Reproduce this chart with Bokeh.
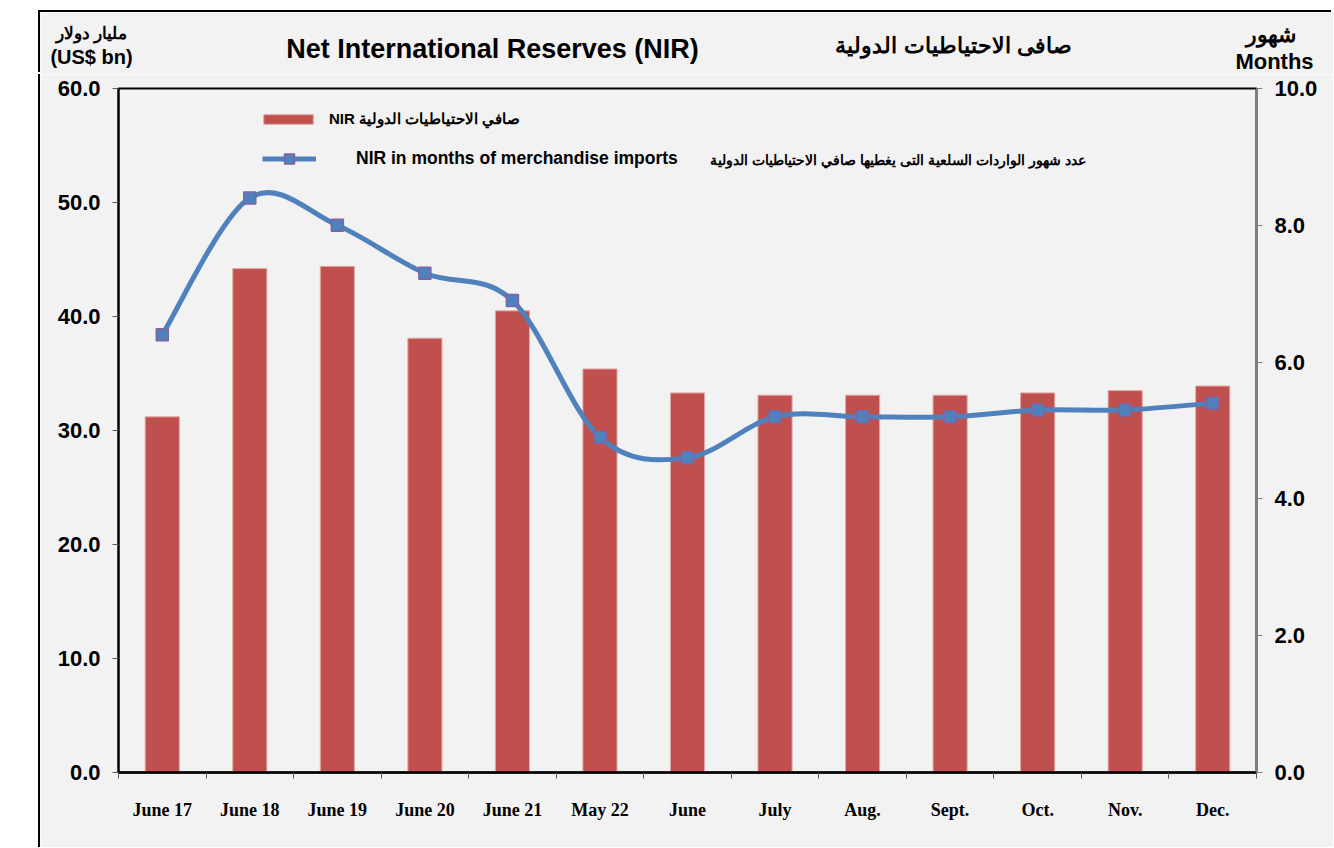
import numpy as np
from bokeh.plotting import figure
from bokeh.models import (Range1d, LinearAxis, FixedTicker, NumeralTickFormatter,
                          Label, Legend, LegendItem, ColumnDataSource)
from bokeh.embed import file_html
from bokeh.resources import INLINE

# ---------------- data ----------------
categories = ["June 17", "June 18", "June 19", "June 20", "June 21", "May 22",
              "June", "July", "Aug.", "Sept.", "Oct.", "Nov.", "Dec."]
nir_bn = [31.2, 44.2, 44.4, 38.1, 40.5, 35.4, 33.3, 33.1, 33.1, 33.1, 33.3, 33.5, 33.9]
nir_months = [6.4, 8.4, 8.0, 7.3, 6.9, 4.9, 4.6, 5.2, 5.2, 5.2, 5.3, 5.3, 5.4]
left_ticks = [0, 10, 20, 30, 40, 50, 60]
right_ticks = [0, 2, 4, 6, 8, 10]

title_en = "Net International Reserves (NIR)"
title_ar = "صافى الاحتياطيات الدولية"
left_unit_ar = "مليار دولار"
left_unit_en = "(US$ bn)"
right_unit_ar = "شهور"
right_unit_en = "Months"
legend_bars = "NIR صافي الاحتياطيات الدولية"
legend_line_en = "NIR in months of merchandise imports"
legend_line_ar = "عدد شهور الواردات السلعية التى يغطيها صافي الاحتياطيات الدولية"

# ---------------- styling ----------------
BAR = "#c0504d"
LINE = "#4f81bd"
BG = "#f2f2f2"
SANS = "Liberation Sans"
SERIF = "Liberation Serif"

PAGE_X0, PAGE_Y0 = 40, 12          # top-left of the grey chart area on the page
W = 1293
HEAD_H = 62
MAIN_H = 773
FRAME_L, FRAME_T = 118, 88          # page position of the plot frame
FRAME_W, FRAME_H = 1138, 684

n = len(categories)
xpos = [i + 0.5 for i in range(n)]

# ---------------- header (titles / units) ----------------
# the header's frame covers the whole header, ranges in page pixel coordinates
head = figure(width=W, height=HEAD_H, output_backend="svg", toolbar_location=None,
              x_range=Range1d(PAGE_X0, PAGE_X0 + W),
              y_range=Range1d(PAGE_Y0 + HEAD_H, PAGE_Y0),
              x_axis_type=None, y_axis_type=None,
              min_border=0, min_border_left=0, min_border_right=0,
              min_border_top=0, min_border_bottom=0,
              background_fill_color=BG, border_fill_color=BG, outline_line_color=None)
head.grid.visible = False
head.margin = (PAGE_Y0, 0, 0, PAGE_X0)
head.styles = {"box-shadow": "-2px -2px 0 0 #000"}


def hlab(text, px, py, size):
    head.add_layout(Label(x=px, y=py, text=text, text_align="center",
                          text_baseline="middle", text_font=SANS, text_font_size=size,
                          text_font_style="bold", text_color="black"))


hlab(title_en, 492, 48, "27px")
hlab(title_ar, 953, 45, "22px")
hlab(left_unit_ar, 91, 32, "16.5px")
hlab(left_unit_en, 91, 56, "20px")
hlab(right_unit_ar, 1270, 34, "22px")
hlab(right_unit_en, 1274, 61, "22px")

# ---------------- main chart ----------------
p = figure(width=W, height=MAIN_H, output_backend="svg", toolbar_location=None,
           x_range=Range1d(0, n), y_range=Range1d(left_ticks[0], left_ticks[-1]),
           min_border_left=FRAME_L - PAGE_X0,
           min_border_right=W - (FRAME_L - PAGE_X0) - FRAME_W,
           min_border_top=FRAME_T - PAGE_Y0 - HEAD_H,
           min_border_bottom=MAIN_H - (FRAME_T - PAGE_Y0 - HEAD_H) - FRAME_H,
           background_fill_color=BG, border_fill_color=BG,
           outline_line_color="black", outline_line_width=2)
p.grid.visible = False
p.margin = (0, 0, 0, PAGE_X0)
p.styles = {"box-shadow": "-2px 0 0 0 #000"}
p.extra_y_ranges = {"months": Range1d(right_ticks[0], right_ticks[-1])}

# left axis
ya = p.yaxis[0]
ya.ticker = FixedTicker(ticks=left_ticks)
ya.formatter = NumeralTickFormatter(format="0.0")
ya.axis_line_color = "black"
ya.axis_line_width = 2
ya.major_tick_out = 6
ya.major_tick_in = 0
ya.major_tick_line_color = "#595959"
ya.minor_tick_line_color = None
ya.major_label_text_font = SANS
ya.major_label_text_font_size = "22px"
ya.major_label_text_font_style = "bold"
ya.major_label_text_color = "black"
ya.major_label_standoff = 12

# right axis
ra = LinearAxis(y_range_name="months", ticker=FixedTicker(ticks=right_ticks),
                formatter=NumeralTickFormatter(format="0.0"))
ra.axis_line_color = "#808080"
ra.axis_line_width = 2
ra.major_tick_out = 6
ra.major_tick_in = 0
ra.major_tick_line_color = "#808080"
ra.minor_tick_line_color = None
ra.major_label_text_font = SANS
ra.major_label_text_font_size = "22px"
ra.major_label_text_font_style = "bold"
ra.major_label_text_color = "black"
ra.major_label_standoff = 12
p.add_layout(ra, "right")

# bottom axis: tick marks at category boundaries
xa = p.xaxis[0]
xa.ticker = FixedTicker(ticks=list(range(n + 1)))
xa.axis_line_color = "black"
xa.axis_line_width = 2.5
xa.major_tick_out = 6
xa.major_tick_in = 0
xa.major_tick_line_color = "#595959"
xa.minor_tick_line_color = None
xa.major_label_text_alpha = 0
xa.major_label_text_font_size = "2px"
xa.major_label_standoff = 0

# bottom axis: category labels at centres
xa2 = LinearAxis(ticker=FixedTicker(ticks=xpos),
                 major_label_overrides={float(x): c for x, c in zip(xpos, categories)})
xa2.axis_line_color = None
xa2.major_tick_line_color = None
xa2.minor_tick_line_color = None
xa2.major_label_text_font = SERIF
xa2.major_label_text_font_size = "18px"
xa2.major_label_text_font_style = "bold"
xa2.major_label_text_color = "black"
xa2.major_label_standoff = 15
p.add_layout(xa2, "below")

# bars
src = ColumnDataSource(dict(x=xpos, top=nir_bn, m=nir_months, cat=categories))
bars = p.vbar(x="x", top="top", width=0.39, source=src,
              fill_color=BAR, line_color="#e3a9a8", line_width=1)

# smoothed line (Bezier segments through the data points)
pts_x = np.array(xpos, dtype=float)
pts_y = np.array(nir_months, dtype=float)
x0, y0, x1, y1, cx0, cy0, cx1, cy1 = ([] for _ in range(8))
for i in range(n - 1):
    a = i - 1 if i > 0 else i
    d = i + 2 if i + 2 < n else i + 1
    x0.append(pts_x[i]); y0.append(pts_y[i])
    x1.append(pts_x[i + 1]); y1.append(pts_y[i + 1])
    cx0.append(pts_x[i] + (pts_x[i + 1] - pts_x[a]) / 6)
    cy0.append(pts_y[i] + (pts_y[i + 1] - pts_y[a]) / 6)
    cx1.append(pts_x[i + 1] - (pts_x[d] - pts_x[i]) / 6)
    cy1.append(pts_y[i + 1] - (pts_y[d] - pts_y[i]) / 6)
curve = p.bezier(x0=x0, y0=y0, x1=x1, y1=y1, cx0=cx0, cy0=cy0, cx1=cx1, cy1=cy1,
                 line_color=LINE, line_width=5, y_range_name="months")
marks = p.scatter(x="x", y="m", source=src, marker="square", size=12,
                  fill_color=LINE, line_color="#8064a2", line_width=1.5,
                  y_range_name="months")

# legends
common = dict(padding=0, margin=0, spacing=0, border_line_color=None,
              background_fill_alpha=0, label_text_font=SANS,
              label_text_font_style="bold", label_text_color="black")
leg1 = Legend(items=[LegendItem(label=legend_bars, renderers=[bars])],
              location=(139, 644), glyph_width=62, glyph_height=12, label_height=12,
              label_standoff=10, label_text_font_size="15px", **common)
leg2 = Legend(items=[LegendItem(label=legend_line_en, renderers=[curve, marks])],
              location=(144, 601), glyph_width=54, glyph_height=25, label_height=12,
              label_standoff=40, label_text_font_size="17.5px", **common)
p.add_layout(leg1)
p.add_layout(leg2)
p.add_layout(Label(x=1085 - FRAME_L, y=FRAME_T + FRAME_H - 159, x_units="screen",
                   y_units="screen", text=legend_line_ar, text_align="right",
                   text_baseline="middle", text_font=SANS, text_font_size="14px",
                   text_font_style="bold", text_color="black"))

open("out.html", "w").write(file_html([head, p], INLINE))
